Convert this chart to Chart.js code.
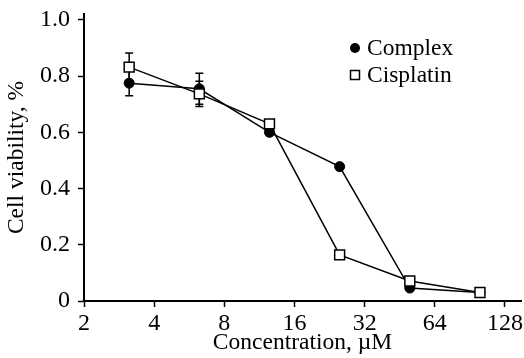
<!DOCTYPE html>
<html>
<head>
<meta charset="utf-8">
<script src="https://cdn.jsdelivr.net/npm/chart.js"></script>
<style>
  body { margin: 0; background: #fff; }
</style>
</head>
<body>
<canvas id="myChart" width="524" height="358"></canvas>
<script>
// concentrations, uM
let concentrations = [3.125, 6.25, 12.5, 25, 50, 100]

let complexViability = [0.775, 0.755, 0.600, 0.478, 0.046, 0.030]
let complexError = [0.045, 0.055, 0, 0, 0, 0]

let cisplatinViability = [0.832, 0.737, 0.630, 0.164, 0.071, 0.030]
let cisplatinError = [0.050, 0.045, 0, 0, 0, 0]

let xTicks = [2, 4, 8, 16, 32, 64, 128]
let yTicks = [0, 0.2, 0.4, 0.6, 0.8, 1.0]

const serif = "'Liberation Serif', 'Times New Roman', serif"

const toPoints = vals => concentrations.map((c, i) => ({ x: c, y: vals[i] }))

// error bars, drawn under the markers
const errorBars = {
    id: "errorBars",
    beforeDatasetsDraw(chart) {
        const { ctx, scales: { x, y } } = chart
        ctx.save()
        ctx.strokeStyle = "#000"
        ctx.lineWidth = 1.5
        chart.data.datasets.forEach(ds => {
            ds.errors.forEach((e, i) => {
                if (!e) return
                const px = x.getPixelForValue(concentrations[i])
                const top = y.getPixelForValue(ds.data[i].y + e)
                const bot = y.getPixelForValue(ds.data[i].y - e)
                ctx.beginPath()
                ctx.moveTo(px, top); ctx.lineTo(px, bot)
                ctx.moveTo(px - 4, top); ctx.lineTo(px + 4, top)
                ctx.moveTo(px - 4, bot); ctx.lineTo(px + 4, bot)
                ctx.stroke()
            })
        })
        ctx.restore()
    }
}

// legend in the upper right of the plot
const seriesLegend = {
    id: "seriesLegend",
    afterDraw(chart) {
        const { ctx, chartArea } = chart
        const lx = chartArea.right - 166
        const rows = [
            { label: "Complex", style: "circle", y: chartArea.top + 34 },
            { label: "Cisplatin", style: "rect", y: chartArea.top + 61 },
        ]
        ctx.save()
        ctx.font = "23.5px " + serif
        ctx.textBaseline = "middle"
        ctx.fillStyle = "#000"
        ctx.strokeStyle = "#000"
        ctx.lineWidth = 1.5
        rows.forEach(r => {
            ctx.beginPath()
            if (r.style === "circle") {
                ctx.arc(lx, r.y, 5, 0, Math.PI * 2)
                ctx.fill()
            } else {
                ctx.fillStyle = "#fff"
                ctx.fillRect(lx - 4.5, r.y - 4.5, 9, 9)
                ctx.strokeRect(lx - 4.5, r.y - 4.5, 9, 9)
                ctx.fillStyle = "#000"
            }
            ctx.fillText(r.label, lx + 12, r.y + 1)
        })
        ctx.restore()
    }
}

new Chart("myChart", {
    type: "line",
    data: {
        datasets: [
            {
                label: "Complex",
                data: toPoints(complexViability),
                errors: complexError,
                borderColor: "#000",
                borderWidth: 1.5,
                pointStyle: "circle",
                pointRadius: 5,
                pointBackgroundColor: "#000",
                pointBorderColor: "#000",
                pointBorderWidth: 1,
                order: 1,
            },
            {
                label: "Cisplatin",
                data: toPoints(cisplatinViability),
                errors: cisplatinError,
                borderColor: "#000",
                borderWidth: 1.5,
                pointStyle: "rect",
                pointRadius: 7,
                pointBackgroundColor: "#fff",
                pointBorderColor: "#000",
                pointBorderWidth: 1.5,
                order: 0,
            },
        ]
    },
    options: {
        responsive: false,
        animation: false,
        layout: { autoPadding: false, padding: { top: 14, right: 3, left: 0, bottom: 0 } },
        plugins: {
            legend: { display: false },
            tooltip: { enabled: false },
        },
        scales: {
            x: {
                type: "logarithmic",
                min: 2,
                max: 150,
                afterBuildTicks: s => { s.ticks = xTicks.map(v => ({ value: v })) },
                afterFit: s => { s.height = 57; s.paddingRight = 0; s.paddingLeft = 0 },
                ticks: {
                    color: "#000",
                    font: { family: serif, size: 24 },
                    padding: 2,
                    maxRotation: 0,
                    callback: v => String(v),
                },
                grid: { display: true, drawOnChartArea: false, tickLength: 6, tickWidth: 1.5, color: "#000" },
                border: { display: true, color: "#000", width: 2 },
                title: {
                    display: true,
                    text: "Concentration, \u00b5M",
                    color: "#000",
                    font: { family: serif, size: 23.5 },
                    padding: { top: 0, bottom: 1 },
                },
            },
            y: {
                min: 0,
                max: 1.021,
                afterBuildTicks: s => { s.ticks = yTicks.map(v => ({ value: v })) },
                afterFit: s => { s.width = 84; s.paddingTop = 0; s.paddingBottom = 0 },
                ticks: {
                    color: "#000",
                    font: { family: serif, size: 24 },
                    padding: 8,
                    callback: v => v === 0 ? "0" : v.toFixed(1),
                },
                grid: { display: true, drawOnChartArea: false, tickLength: 6, tickWidth: 1.5, color: "#000" },
                border: { display: true, color: "#000", width: 2 },
                title: {
                    display: true,
                    text: "Cell viability, %",
                    color: "#000",
                    font: { family: serif, size: 23.5 },
                    padding: { top: 3, bottom: 0 },
                },
            },
        }
    },
    plugins: [errorBars, seriesLegend]
})
</script>
</body>
</html>
